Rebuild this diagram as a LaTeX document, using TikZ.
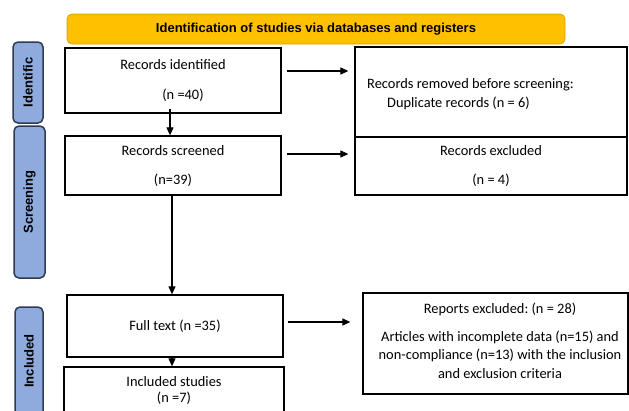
\documentclass[tikz,border=0pt]{standalone}
\usepackage{fontspec}
\setmainfont{Carlito}
\newfontfamily\headfont{Liberation Sans}
\usetikzlibrary{arrows.meta,calc}
\definecolor{bannerfill}{HTML}{FFC000}
\definecolor{bannerdraw}{HTML}{D9A300}
\definecolor{tabfill}{HTML}{8FAADC}
\definecolor{tabdraw}{HTML}{2F3B53}
\frenchspacing
\begin{document}
\begin{tikzpicture}[x=1pt,y=-1pt,
  box/.style={draw, line width=1.3pt, align=center, inner sep=0pt,
    font=\fontsize{14.4}{17.3}\selectfont},
  tab/.style={draw=tabdraw, fill=tabfill, line width=1.5pt, rounded corners=5pt,
    inner sep=0pt},
  tabtext/.style={rotate=90, font=\headfont\bfseries\fontsize{13}{15}\selectfont},
  arr/.style={line width=1.1pt, -{Triangle[length=8pt,width=7pt]}}
]
\useasboundingbox (0,0) rectangle (629,410);
\fill[white] (0,0) rectangle (629,410);

% banner
\node[draw=bannerdraw, fill=bannerfill, line width=0.8pt, rounded corners=5pt,
  minimum width=498pt, minimum height=30pt, inner sep=0pt,
  font=\headfont\bfseries\fontsize{13}{15}\selectfont] (banner) at (316,29)
  {Identification of studies via databases and registers};

% side tabs
\node[tab, minimum width=30pt, minimum height=81pt] (t1) at (28,82.5) {};
\node[tabtext] (t1txt) at (t1) {Identific};
\node[tab, minimum width=31pt, minimum height=152pt] (t2) at (29.5,202) {};
\node[tabtext] (t2txt) at (t2) {Screening};
\node[tab, minimum width=28pt, minimum height=113pt] (t3) at (29,363.5) {};
\node[tabtext] (t3txt) at (29,361) {Included};

% left column
\node[box, minimum width=216pt, minimum height=65pt] (b1) at (173,80.5)
  {Records identified\\[12.7pt]\hspace*{20pt}(n =40)};
\node[box, minimum width=216pt, minimum height=59pt] (b2) at (173,165.5)
  {Records screened\\[11.7pt](n=39)};
\node[box, minimum width=216pt, minimum height=62pt] (b3) at (175,326)
  {Full text (n =35)};
\node[box, minimum width=220pt, minimum height=46pt] (b4) at (174,390)
  {Included studies\\[-1.3pt](n =7)};

% right column
\node[box, minimum width=272pt, minimum height=90pt] (r1) at (491,92) {};
\node[anchor=west, align=left, inner sep=0pt,
  font=\fontsize{14.4}{17.3}\selectfont] (r1txt) at (367,94.5)
  {Records removed before screening:\\[1.7pt]\hspace*{20pt}Duplicate records (n = 6)};
\node[box, minimum width=272pt, minimum height=58pt] (r2) at (491,166)
  {Records excluded\\[11.7pt](n = 4)};
\node[box, minimum width=265pt, minimum height=101pt] (r3) at (495.5,343.5) {};
\node[align=center, inner sep=0pt,
  font=\fontsize{14.4}{18.5}\selectfont] (r3txt) at (500,340.5)
  {Reports excluded: (n = 28)\\[9.5pt]Articles with incomplete data (n=15) and\\non-compliance (n=13) with the inclusion\\and exclusion criteria};

% arrows
\draw[arr] ([xshift=-3pt,yshift=5pt]b1.south) -- ([xshift=-3pt]b2.north);
\draw[arr] ([xshift=-1pt]b2.south) -- ([xshift=-3pt]b3.north);
\draw[arr] ([xshift=-3pt]b3.south) -- ([xshift=-2pt]b4.north);
\draw[arr, shorten <=5pt, shorten >=6pt] ([yshift=9.5pt]b1.east) coordinate (a1) -- (a1 -| r1.west);
\draw[arr, shorten <=5pt, shorten >=6pt] ([yshift=11.5pt]b2.east) coordinate (a2) -- (a2 -| r2.west);
\draw[arr, shorten <=4pt, shorten >=12pt] ([yshift=4pt]b3.east) coordinate (a3) -- (a3 -| r3.west);
\end{tikzpicture}
\end{document}
